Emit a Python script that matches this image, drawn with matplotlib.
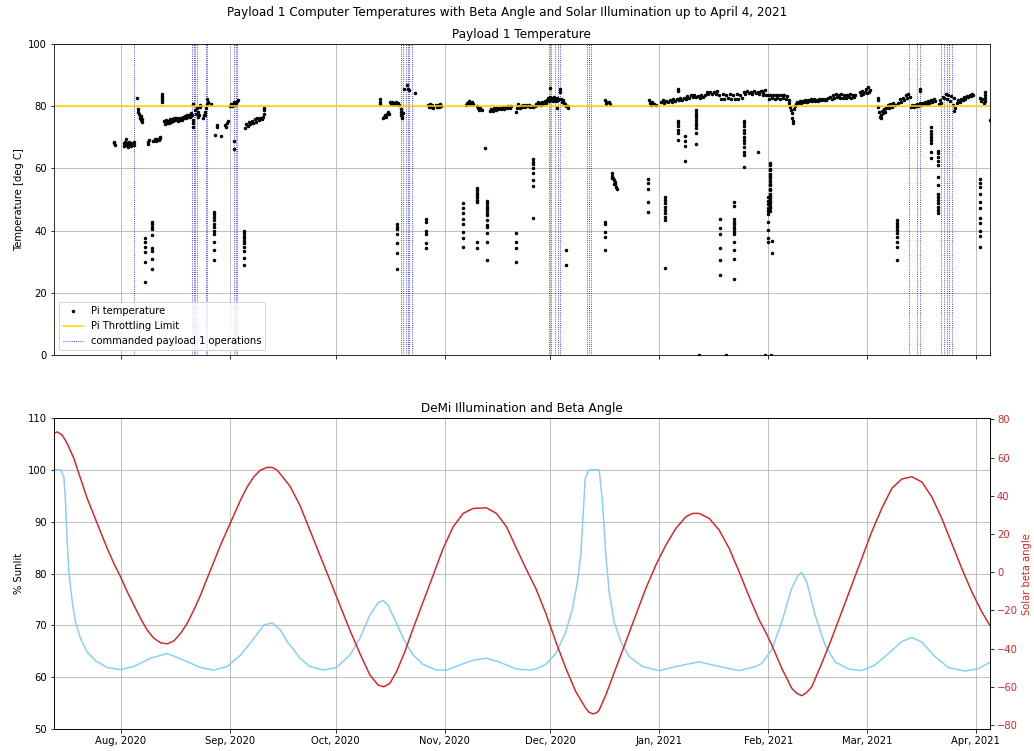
import numpy as np
import pandas as pd
import matplotlib
matplotlib.use('Agg')
import matplotlib.pyplot as plt
import matplotlib.dates as mdates

# all times are days counted from 1 Aug 2020 (negative = July)
T0 = pd.Timestamp('2020-08-01')

# ---------------- Pi temperature, dense runs (day, degC) ----------------
temps_jul_sep = [
    (-2.0, 68.0), (-1.9, 68.4), (-1.8, 67.6),
    (0.8, 68.2), (1.0, 67.0), (1.2, 68.6), (1.4, 67.5), (1.6, 69.3), (1.8, 68.0), (2.0, 66.8),
    (2.2, 67.7), (2.4, 68.3), (2.6, 67.4), (2.8, 68.1), (2.9, 67.2), (3.7, 68.3), (3.7, 67.6),
    (4.6, 82.7),
    (4.8, 79.0), (4.9, 78.2), (5.1, 77.5), (5.3, 76.6), (5.5, 76.0), (5.6, 76.9), (5.7, 75.4),
    (5.9, 75.0), (6.1, 75.8),
    (7.8, 68.5), (7.8, 67.8), (7.9, 69.0),
    (9.2, 68.8), (9.6, 69.3), (10.0, 68.9), (10.4, 69.4), (10.8, 69.0), (11.0, 69.9), (11.2, 69.6),
    (11.7, 84.0), (11.7, 83.3), (11.7, 82.5), (11.7, 81.8), (11.7, 81.4),
    (12.2, 75.2), (12.5, 74.3), (12.8, 75.6), (13.1, 74.6), (13.4, 75.3), (13.7, 74.5), (14.0, 75.8),
    (14.3, 74.9), (14.6, 75.7), (14.9, 75.2), (15.2, 76.1), (15.5, 75.5), (15.8, 76.0), (16.1, 75.3),
    (16.4, 76.3), (16.7, 75.6), (17.0, 76.1), (17.3, 75.5), (17.6, 76.6), (17.9, 76.0), (18.2, 76.9),
    (18.5, 76.3), (18.8, 77.2), (19.1, 76.6), (19.4, 77.0), (19.7, 76.4), (20.0, 77.8), (20.2, 77.0),
    (20.5, 75.5), (20.5, 74.5), (20.5, 73.3), (20.5, 80.6),
    (21.2, 78.8), (21.4, 77.5), (21.6, 79.3), (21.8, 76.6), (22.0, 78.2), (22.2, 77.0), (22.4, 79.6),
    (22.5, 80.3),
    (23.4, 76.3), (23.6, 77.2), (23.8, 78.0), (24.0, 77.0), (24.2, 79.4), (24.4, 80.8), (24.6, 82.3),
    (24.7, 81.2), (25.5, 80.6),
    (26.7, 70.7), (27.3, 73.9), (27.3, 73.1), (28.6, 70.5),
    (29.5, 74.0), (29.8, 73.4), (30.1, 74.6), (30.4, 75.2),
    (31.0, 80.0), (31.3, 80.8), (31.6, 79.9), (31.9, 80.6), (32.2, 81.2), (32.5, 80.4), (32.8, 81.0),
    (33.1, 81.6), (33.4, 81.9), (32.1, 68.9), (32.1, 66.2),
    (35.2, 73.0), (35.6, 74.3), (36.0, 73.5), (36.4, 75.0), (36.8, 74.2), (37.2, 75.3), (37.6, 74.6),
    (38.0, 75.7), (38.4, 75.0), (38.8, 76.0), (39.2, 75.4), (39.6, 76.2), (40.0, 75.7), (40.4, 76.4),
    (40.7, 77.5), (40.8, 78.6), (40.8, 79.4),
]

temps_oct_nov = [
    (73.6, 82.1), (73.6, 81.3), (73.6, 80.6),
    (74.4, 76.0), (74.7, 76.6), (75.0, 77.2), (75.3, 76.5), (75.6, 77.4), (75.9, 78.0), (76.2, 77.3),
    (76.4, 81.4), (76.7, 80.7), (77.0, 81.2), (77.3, 80.5), (77.6, 81.0), (77.9, 80.6), (78.2, 81.3),
    (78.5, 80.5), (78.8, 80.9), (79.1, 80.2),
    (79.5, 79.0), (79.6, 78.0), (79.7, 77.2), (79.8, 76.5), (80.0, 76.0), (80.1, 77.6),
    (80.5, 85.3), (81.4, 86.7), (81.6, 85.6), (81.8, 85.0), (83.7, 84.2),
    (87.3, 80.2), (87.6, 79.6), (87.9, 80.5), (88.2, 79.8), (88.5, 80.3), (88.8, 79.5), (89.5, 80.4),
    (89.8, 79.7), (90.1, 80.3), (90.4, 79.8), (90.7, 80.5), (91.0, 79.9),
    (98.0, 80.3), (98.3, 81.0), (98.6, 80.5), (99.0, 81.7), (99.3, 80.8), (99.7, 81.2), (100.1, 80.6),
    (101.3, 80.0), (101.6, 79.2), (101.9, 78.8), (102.2, 79.4), (102.5, 78.6), (103.4, 66.4),
    (104.9, 78.3), (105.3, 79.0), (105.7, 78.5), (106.1, 79.2), (106.5, 78.7), (106.9, 79.4),
    (107.3, 78.9), (107.7, 79.5), (108.1, 79.0), (108.5, 79.6), (108.9, 79.1), (109.3, 79.8),
    (109.7, 79.3), (110.1, 80.0), (110.5, 79.5), (111.0, 79.9),
    (112.4, 78.2), (112.7, 79.5), (113.0, 80.6), (113.3, 79.2), (113.6, 80.1), (114.0, 79.6),
    (114.4, 80.3), (114.8, 79.8), (115.2, 80.4), (115.6, 79.9), (116.0, 80.2), (116.4, 79.6),
    (116.8, 80.1), (117.2, 79.7),
]

temps_dec_jan = [
    (117.7, 80.0), (118.0, 80.8), (118.3, 80.2), (118.6, 81.2), (118.9, 80.5), (119.2, 81.0),
    (119.5, 80.4), (119.8, 81.4), (120.1, 80.8), (120.4, 81.5), (120.8, 81.0),
    (121.0, 81.8), (121.3, 82.5), (121.6, 81.5), (121.9, 82.9), (122.2, 82.0), (122.5, 82.6),
    (122.8, 81.7), (123.1, 82.8), (123.4, 82.2), (123.7, 81.6), (124.0, 82.5), (124.3, 81.9),
    (124.6, 82.3), (121.9, 85.7), (123.9, 79.2), (124.8, 85.4), (124.9, 84.6),
    (125.0, 82.2), (125.3, 81.2), (125.6, 82.0), (125.9, 81.0), (126.2, 80.6), (126.6, 80.0),
    (127.0, 79.2), (127.2, 80.1),
    (137.6, 82.0), (137.8, 81.3), (138.0, 80.8), (138.6, 81.2), (138.9, 80.5),
    (139.5, 58.4), (139.6, 57.0), (139.7, 57.6), (139.9, 56.9), (140.1, 56.2), (140.2, 55.0),
    (140.3, 55.5), (140.5, 54.8), (140.8, 54.1), (140.9, 53.5),
    (150.1, 82.0), (150.4, 81.0), (150.7, 80.4), (151.0, 81.2), (151.3, 80.5), (151.6, 80.8),
    (152.0, 80.3),
    (153.5, 81.2), (154.0, 81.8), (154.5, 81.0), (155.0, 81.7), (155.5, 81.3), (156.0, 81.9),
    (156.5, 81.4), (157.0, 82.2), (157.5, 81.6), (158.0, 82.4), (158.5, 81.8), (159.0, 82.6),
    (159.5, 82.0), (160.0, 82.5), (160.5, 82.1), (161.0, 83.2), (161.5, 82.6), (162.0, 83.4),
    (162.5, 82.8), (163.0, 83.5), (163.5, 82.9), (164.0, 83.3), (164.5, 82.7), (165.0, 83.6),
    (165.5, 83.0), (166.0, 83.5), (166.5, 84.4), (167.0, 83.8), (167.5, 84.6), (168.0, 84.0),
    (168.5, 84.5), (169.0, 83.9), (169.5, 84.8), (170.0, 83.4), (170.5, 82.4), (171.0, 83.8),
    (171.5, 82.3), (172.0, 83.6), (172.5, 82.5), (173.0, 83.8), (173.5, 82.3), (174.0, 83.5),
    (174.5, 82.4), (175.0, 83.7), (175.5, 82.3), (176.0, 83.6), (176.5, 82.7), (177.0, 84.5),
    (177.5, 83.8), (178.0, 84.8), (178.5, 84.1), (179.0, 84.6), (179.5, 84.0), (180.0, 84.9),
    (180.5, 84.2), (181.0, 84.6), (181.5, 84.0), (182.0, 84.8), (182.5, 84.3), (183.0, 85.0),
    (158.2, 85.6), (158.2, 84.8),
]

temps_feb_apr = [
    (182.2, 84.8), (182.6, 83.6), (183.4, 83.5),
    (183.8, 83.5), (184.2, 82.4), (184.6, 83.6), (185.0, 82.6), (185.4, 83.4), (185.8, 82.2),
    (186.2, 83.5), (186.6, 82.5), (187.0, 83.6), (187.4, 82.3), (187.8, 83.4), (188.2, 82.5),
    (188.6, 83.6), (189.0, 82.4), (189.4, 83.2), (189.8, 82.0),
    (190.0, 81.0), (190.2, 79.8), (190.4, 78.6), (190.6, 77.8), (190.8, 76.0), (190.9, 74.6),
    (190.9, 75.3),
    (191.2, 79.0), (191.5, 80.0), (191.8, 80.8), (192.1, 81.3), (192.5, 80.9), (192.9, 81.5),
    (193.3, 81.1), (193.7, 81.7), (194.1, 81.2), (194.5, 81.8), (194.9, 81.4), (195.3, 81.9),
    (195.7, 81.5), (196.1, 82.1), (196.5, 81.6), (196.9, 82.2), (197.3, 81.7), (197.7, 82.0),
    (198.1, 81.6), (198.5, 82.2), (198.9, 81.8), (199.3, 82.3), (199.7, 81.9), (200.1, 82.4),
    (200.5, 82.0), (200.9, 82.5),
    (201.6, 83.0), (202.0, 82.4), (202.4, 83.6), (202.8, 82.6), (203.2, 83.8), (203.6, 82.8),
    (204.0, 83.5), (204.4, 82.5), (204.8, 83.7), (205.2, 82.7), (205.6, 83.6), (206.0, 82.6),
    (206.4, 83.5), (206.8, 82.8), (207.2, 83.7), (207.6, 82.6), (208.0, 83.4), (208.4, 82.9),
    (208.7, 83.6),
    (210.1, 84.5), (210.4, 83.5), (210.7, 84.8), (211.0, 83.8), (211.4, 84.4), (211.8, 85.5),
    (212.1, 84.2), (212.4, 86.0), (212.7, 84.6), (212.9, 85.2),
    (215.2, 81.8), (215.3, 82.5),
    (215.3, 79.8), (215.5, 78.0), (215.7, 76.5), (215.9, 77.2), (216.1, 76.1), (216.4, 78.5),
    (216.7, 77.6), (217.0, 79.0), (217.2, 78.2),
    (217.5, 79.3), (217.9, 80.2), (218.3, 79.5), (218.7, 80.6), (219.1, 79.8), (219.5, 81.0),
    (219.9, 80.4),
    (221.0, 81.0), (221.4, 82.2), (221.8, 81.4), (222.2, 82.6), (222.6, 81.8), (223.0, 83.4),
    (223.4, 82.5), (223.8, 83.8), (224.2, 82.9),
    (224.5, 79.8), (224.9, 80.4), (225.3, 79.6), (225.7, 80.3), (226.0, 79.9),
    (227.1, 85.4), (227.1, 84.8),
    (226.2, 80.5), (226.6, 80.0), (227.0, 80.9), (227.4, 80.3), (227.8, 81.1), (228.2, 80.5),
    (228.6, 81.3), (229.0, 80.8), (229.4, 81.6), (229.8, 81.0), (230.2, 81.8), (230.6, 81.3),
    (231.0, 82.2), (231.4, 81.6),
    (232.4, 80.6), (232.8, 82.0), (233.2, 81.0), (233.6, 82.8), (234.0, 82.5), (234.4, 83.9),
    (234.8, 82.4), (235.2, 83.6), (235.6, 81.5), (236.0, 83.2), (236.4, 80.2), (236.8, 82.6),
    (237.1, 79.5), (236.9, 78.3),
    (237.6, 81.0), (238.0, 81.8), (238.4, 81.4), (238.8, 82.3), (239.2, 82.0), (239.6, 82.8),
    (240.0, 82.4), (240.4, 83.2), (240.8, 82.8), (241.2, 83.6), (241.6, 83.2), (242.0, 84.0),
    (242.3, 83.6),
    (244.2, 82.5), (244.5, 81.6), (244.8, 82.2), (245.2, 81.0),
    (245.6, 84.5), (245.6, 83.5), (245.6, 82.5), (245.6, 81.5), (247.0, 75.4),
    (164.3, 0.0), (171.9, 0.0), (183.0, 0.0), (184.9, 0.0),
]

# isolated low readings (each column is one day)
col_days = [6.8, 8.9, 26.4, 35.1, 78.6, 86.7, 97.1, 101.1, 104.1, 112.2, 117.2, 126.6, 137.6,
            149.7, 154.7, 158.4, 160.4, 163.4, 170.2, 174.2, 177.2, 181.2, 184.0, 184.6, 185.0,
            220.5, 230.3, 232.2, 244.2]
col_temps = [
    [37.5, 36.4, 34.6, 33.0, 30.0, 23.6],
    [42.8, 42.1, 41.2, 40.4, 38.5, 34.3, 33.4, 30.8, 27.8],
    [46.0, 45.3, 44.4, 43.4, 42.1, 41.0, 39.9, 38.9, 36.4, 33.7, 30.5],
    [39.9, 39.1, 38.2, 37.5, 36.6, 35.9, 34.8, 33.4, 31.1, 28.9],
    [42.0, 41.2, 40.5, 38.8, 36.1, 32.7, 27.8],
    [43.6, 42.8, 39.9, 38.9, 36.1, 34.3],
    [48.9, 47.1, 45.8, 43.7, 42.0, 39.6, 37.5, 34.6],
    [53.8, 53.0, 52.1, 51.4, 50.7, 49.8, 49.1, 36.4, 34.3],
    [49.5, 48.7, 48.0, 47.3, 46.6, 45.7, 45.0, 43.4, 41.8, 41.0, 39.1, 36.4, 30.5],
    [39.1, 36.4, 34.3, 30.0],
    [63.0, 62.1, 61.4, 60.0, 58.4, 56.2, 54.3, 43.9],
    [33.7, 28.9],
    [42.8, 42.1, 39.6, 38.0, 33.7],
    [56.4, 55.2, 53.5, 49.1, 46.0],
    [50.7, 49.8, 48.7, 47.6, 46.6, 45.5, 44.4, 43.4, 27.9],
    [75.3, 74.4, 73.6, 72.3, 71.2, 69.1],
    [70.3, 68.7, 67.1, 62.4],
    [78.7, 77.8, 77.1, 76.4, 75.5, 74.6, 73.8, 72.8, 71.2, 67.8],
    [43.7, 40.7, 38.8, 34.3, 30.5, 25.7],
    [49.1, 48.0, 43.7, 42.8, 42.0, 41.2, 40.5, 39.6, 38.9, 36.4, 33.7, 30.8, 24.6],
    [75.3, 74.4, 73.6, 72.3, 71.4, 70.1, 69.1, 68.0, 66.9, 65.3, 64.2, 60.5],
    [65.3],
    [50.7, 49.6, 48.5, 47.4, 46.3, 45.3, 42.8, 40.2, 37.5, 36.4],
    [61.6, 60.9, 59.9, 59.3, 58.2, 57.6, 56.9, 55.8, 55.1, 54.5, 53.4, 52.9, 51.8, 51.2, 50.3,
     49.5, 48.9, 47.8, 47.1, 46.4],
    [32.7, 36.8],
    [43.4, 42.5, 41.8, 41.0, 40.2, 39.3, 38.0, 36.4, 34.8, 30.7],
    [73.1, 72.0, 71.0, 69.9, 69.1, 68.0, 65.3, 63.2],
    [65.6, 64.8, 63.7, 62.4, 61.0, 57.3, 54.6, 51.9, 50.9, 49.8, 48.7, 47.6, 46.6, 45.5],
    [56.4, 55.3, 54.1, 51.7, 49.2, 47.1, 43.9, 42.5, 39.9, 38.2, 34.8],
]

# commanded payload 1 operations
ops_days = [3.8, 20.25, 20.7, 21.2, 21.5, 24.1, 24.4, 32.2, 32.7, 33.05,
            79.55, 80.2, 80.9, 81.5, 82.0, 82.6, 121.6, 122.2, 123.5, 124.1, 124.7,
            132.5, 133.0, 133.6, 224.1, 226.2, 227.0, 233.0, 233.8, 234.8, 235.5, 236.3]

throttle_limit = 80

# ---------------- illumination (% sunlit) ----------------
sun_days = [-19.04, -17.15, -16.2, -15.73, -15.25, -14.78, -13.83, -12.89, -11.46, -9.57, -7.2,
            -3.88, -0.09, 3.69, 8.43, 13.17, 17.9, 22.64, 26.43, 30.22, 34.01, 37.8, 40.64, 43.0,
            45.37, 47.26, 49.16, 50.87, 53.71, 57.5, 61.29, 65.08, 67.92, 70.76, 73.13, 74.55,
            75.97, 78.34, 80.71, 83.07, 85.91, 89.7, 92.55, 96.34, 100.12, 103.91, 107.7,
            112.44, 116.23, 117.93, 120.77, 123.62, 126.46, 128.35, 129.77, 130.72, 131.38,
            131.95, 133.09, 135.93, 136.88, 137.83, 138.77, 140.19, 142.09, 144.46, 148.24,
            152.98, 157.72, 164.35, 170.03, 175.72, 180.45, 182.15, 184.99, 187.83, 190.68,
            192.57, 193.52, 194.94, 197.31, 200.15, 202.99, 206.78, 210.57, 214.36, 218.15,
            221.94, 224.78, 227.62, 231.41, 235.2, 239.93, 243.72, 247.04]
sun_pct = [100.0, 100.0, 98.6, 93.8, 86.1, 80.3, 74.6, 70.7, 67.5, 64.9, 63.2,
           61.9, 61.5, 62.1, 63.7, 64.6, 63.3, 61.9, 61.4, 62.1, 64.3, 67.5, 70.1, 70.5,
           69.1, 66.9, 65.3, 63.7, 62.1, 61.4, 61.9, 64.3, 67.5, 72.0, 74.4, 74.8,
           73.9, 70.4, 66.9, 64.3, 62.5, 61.4, 61.4, 62.4, 63.3, 63.7, 62.9,
           61.6, 61.4, 61.6, 62.5, 64.6, 68.8, 73.3, 78.4, 83.6, 91.3,
           98.3, 100.0, 100.0, 93.8, 83.6, 76.5, 70.7, 66.9, 64.0, 62.1,
           61.3, 62.1, 63.0, 62.1, 61.3, 62.1, 62.7, 65.3, 70.7, 77.2,
           79.8, 80.2, 78.4, 72.0, 66.2, 63.0, 61.6, 61.3, 62.4, 64.6,
           66.9, 67.7, 66.8, 64.0, 61.9, 61.2, 61.7, 62.9]

# ---------------- solar beta angle (deg) ----------------
beta_days = [-19.04, -18.09, -16.67, -15.25, -13.36, -11.46, -9.57, -7.67, -5.78, -3.88, -1.99,
             -0.09, 1.8, 3.69, 5.59, 7.48, 9.38, 11.27, 13.17, 15.06, 16.96, 18.85, 20.74, 22.64,
             24.53, 26.43, 28.32, 30.22, 32.11, 34.01, 35.9, 37.8, 39.69, 41.58, 43.0, 44.42,
             46.32, 48.1, 50.87, 53.71, 56.55, 59.4, 62.24, 65.08, 67.92, 70.76, 73.13, 74.74,
             76.44, 78.34, 80.71, 83.07, 85.91, 88.76, 91.6, 94.44, 97.28, 100.12, 103.91,
             106.75, 109.6, 112.44, 115.1, 117.93, 120.77, 123.62, 126.46, 129.3, 132.14, 133.09,
             134.22, 135.2, 135.93, 137.83, 140.67, 143.51, 146.35, 149.19, 152.04, 154.88,
             157.72, 160.56, 162.46, 164.35, 167.19, 170.03, 172.88, 175.72, 178.56, 181.4,
             183.3, 184.99, 187.83, 190.68, 192.1, 193.52, 194.94, 196.36, 199.2, 202.04,
             204.89, 207.73, 210.57, 213.41, 216.25, 219.1, 221.94, 224.78, 227.62, 230.46,
             233.3, 236.15, 238.99, 241.83, 244.67, 247.04]
beta_deg = [72.7, 73.5, 71.8, 67.4, 59.6, 49.1, 38.7, 29.9, 21.2, 12.5, 4.6,
            -2.4, -10.2, -17.2, -24.2, -30.3, -34.6, -36.9, -37.5, -36.0, -32.0, -26.8, -19.8, -12.0,
            -3.2, 5.5, 14.2, 22.1, 29.9, 37.8, 44.7, 50.0, 53.5, 54.9, 54.9, 53.5,
            49.1, 45.0, 35.1, 22.1, 9.0, -4.1, -17.2, -30.3, -42.5, -53.8, -59.1, -60.0,
            -58.2, -52.1, -41.6, -29.4, -15.5, -1.5, 12.5, 23.8, 30.8, 33.4, 33.7,
            30.8, 23.8, 12.5, 2.0, -8.5, -21.5, -36.4, -50.3, -62.6, -71.3, -73.4,
            -74.2, -73.6, -72.2, -64.3, -50.3, -36.4, -22.4, -8.5, 3.7, 14.2,
            22.9, 29.0, 30.8, 30.8, 28.2, 22.1, 12.5, 0.2, -12.8, -25.0,
            -31.5, -38.1, -50.3, -60.8, -63.4, -64.7, -62.9, -60.0, -47.7, -34.6,
            -20.7, -6.7, 7.2, 21.2, 33.4, 43.9, 48.8, 50.0, 47.3, 39.5,
            28.2, 15.1, 2.0, -10.2, -20.7, -28.0]

x_start, x_end = -19.1, 247.0


def to_dates(days):
    return T0 + pd.to_timedelta(np.asarray(days, dtype=float), unit='D')


def main():
    all_pts = temps_jul_sep + temps_oct_nov + temps_dec_jan + temps_feb_apr
    t_days = [p[0] for p in all_pts]
    t_vals = [p[1] for p in all_pts]
    for d, col in zip(col_days, col_temps):
        t_days += [d] * len(col)
        t_vals += col

    fig, (ax1, ax3) = plt.subplots(2, 1, sharex=True, figsize=(1034 / 72, 751 / 72), dpi=72)
    fig.subplots_adjust(left=0.0519, right=0.9574, top=0.9418, bottom=0.0289, hspace=0.2013)
    fig.suptitle('Payload 1 Computer Temperatures with Beta Angle and Solar Illumination up to April 4, 2021',
                 x=0.49, y=0.992)

    # top: temperatures
    ax1.plot(to_dates(t_days), t_vals, 'k.', markersize=5, label='Pi temperature')
    ax1.axhline(throttle_limit, color='gold', label='Pi Throttling Limit')
    for i, d in enumerate(ops_days):
        # keep the dotted lines under the points
        ax1.axvline(to_dates([d])[0], color='blue', linestyle=':', linewidth=0.8, zorder=1.8,
                    label='commanded payload 1 operations' if i == 0 else None)
    ax1.set_ylim(0, 100)
    ax1.set_ylabel('Temperature [deg C]')
    ax1.set_title('Payload 1 Temperature')
    ax1.grid()
    ax1.legend(loc='lower left')

    # bottom: illumination and beta angle
    ax3.plot(to_dates(sun_days), sun_pct, color='lightskyblue')
    ax3.set_ylim(50, 110)
    ax3.set_ylabel('% Sunlit')
    ax3.set_title('DeMi Illumination and Beta Angle')
    ax3.grid()

    ax4 = ax3.twinx()
    ax4.plot(to_dates(beta_days), beta_deg, color='tab:red')
    ax4.set_ylim(-82.25, 80.84)
    ax4.set_ylabel('Solar beta angle', color='tab:red')
    ax4.tick_params(axis='y', labelcolor='tab:red')

    ax3.set_xlim(to_dates([x_start])[0], to_dates([x_end])[0])
    ax3.xaxis.set_major_locator(mdates.MonthLocator())
    ax3.xaxis.set_major_formatter(mdates.DateFormatter('%b, %Y'))

    fig.savefig('out.png', dpi=72)


if __name__ == '__main__':
    main()
